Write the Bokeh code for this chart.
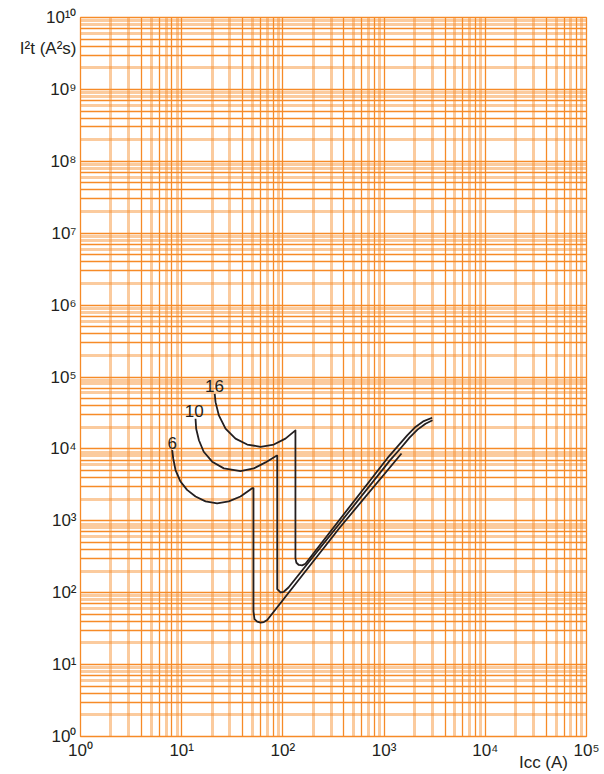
from bokeh.plotting import figure
from bokeh.models import FixedTicker, Grid, LogAxis, ColumnDataSource
from bokeh.core.properties import value
from bokeh.embed import file_html
from bokeh.resources import INLINE

# ---- data ----
x_ticks = [1, 10, 100, 1000, 10000, 100000]
x_tick_labels = ["10⁰", "10¹", "10²", "10³", "10⁴", "10⁵"]
y_ticks = [10 ** k for k in range(11)]
y_tick_labels = ["10⁰", "10¹", "10²", "10³", "10⁴", "10⁵", "10⁶", "10⁷", "10⁸", "10⁹", "10¹⁰"]

x_title = "Icc (A)"
x_title_pos = 10 ** 4.575
y_title = "I²t (A²s)"
y_title_pos = 10 ** 9.57

# grid mantissas (pale / solid minor lines)
x_minor_pale = [2, 3, 5, 7, 9]
x_minor_solid = [4, 6, 8]
y_minor_pale = [2, 6, 8, 9]
y_minor_solid = [3, 4, 5, 7]

curve6_x = [8.06, 8.24, 8.69, 9.73, 11.3, 13.7, 17.2, 22.4, 29.2, 38.1, 49.7, 51.2,
            51.2, 52.4, 55.7, 60.1, 64.8, 70, 362, 1486]
curve6_y = [9600, 7370, 5080, 3515, 2690, 2180, 1860, 1745, 1860, 2180, 2840, 2840,
            55, 43, 39.6, 38.4, 39.1, 41.7, 795, 8640]

curve10_x = [13.7, 13.9, 14.8, 16.5, 20.0, 26.1, 38.1, 51.6, 67.3, 86.5, 87.9,
             87.9, 94.7, 102, 113.6, 1143, 1436, 1783, 2138, 2565, 3010]
curve10_y = [26300, 19100, 13200, 9120, 6640, 5360, 4920, 5360, 6490, 8030, 8030,
             112, 100.7, 103, 118, 6920, 9970, 14360, 18540, 22420, 25070]

curve16_x = [21.2, 21.6, 23.3, 27.1, 34.0, 44.4, 60.1, 81.3, 106, 133,
             133, 136, 143.6, 155, 167, 1073, 1347, 1692, 2042, 2467, 2987]
curve16_y = [58200, 44700, 29200, 19100, 13900, 11500, 10700, 11500, 13900, 18100,
             300, 261, 243, 240, 253, 7370, 10690, 15450, 20200, 24400, 27150]

curve_label_x = [8.06, 13.3, 21.1]
curve_label_y = [12250, 33400, 74000]
curve_label_text = ["6", "10", "16"]

# ---- styles ----
ORANGE = "#F68B28"
INK = "#231F20"
FONT = "Liberation Sans"

p = figure(width=604, height=774, x_axis_type="log", y_axis_type="log",
           x_range=(1, 1e5), y_range=(1, 1e10),
           output_backend="svg", toolbar_location=None,
           min_border_left=80, min_border_right=18, min_border_top=17, min_border_bottom=34)
p.background_fill_color = "white"
p.border_fill_color = "white"
p.outline_line_color = ORANGE
p.outline_line_width = 1.3

p.xaxis.ticker = FixedTicker(ticks=x_ticks, minor_ticks=[])
p.yaxis.ticker = FixedTicker(ticks=y_ticks + [y_title_pos], minor_ticks=[])
p.xaxis.major_label_overrides = {t: s for t, s in zip(x_ticks, x_tick_labels)}
y_over = {t: s for t, s in zip(y_ticks, y_tick_labels)}
y_over[y_title_pos] = y_title
p.yaxis.major_label_overrides = y_over

x2 = LogAxis(ticker=FixedTicker(ticks=[x_title_pos], minor_ticks=[]),
             major_label_overrides={x_title_pos: x_title})
p.add_layout(x2, "below")

for ax in (p.xaxis + p.yaxis):
    ax.axis_line_color = None
    ax.major_tick_line_color = None
    ax.minor_tick_line_color = None
    ax.major_tick_in = 0
    ax.major_tick_out = 0
    ax.minor_tick_in = 0
    ax.minor_tick_out = 0
    ax.major_label_text_font = FONT
    ax.major_label_text_font_size = "17px"
    ax.major_label_text_color = INK
    ax.major_label_standoff = 4
x2.major_label_standoff = -10

p.xgrid.ticker = FixedTicker(ticks=x_ticks, minor_ticks=[])
p.ygrid.ticker = FixedTicker(ticks=y_ticks, minor_ticks=[])
p.xgrid.grid_line_color = ORANGE
p.xgrid.grid_line_width = 1.3
p.ygrid.grid_line_color = ORANGE
p.ygrid.grid_line_width = 1.3

decades_x = x_ticks[:-1]
decades_y = y_ticks[:-1]

def add_grid(dim, decades, mants, width, alpha):
    ticks = [d * m for d in decades for m in mants]
    g = Grid(dimension=dim, ticker=FixedTicker(ticks=ticks, minor_ticks=[]),
             grid_line_color=ORANGE, grid_line_width=width, grid_line_alpha=alpha)
    p.add_layout(g)

add_grid(0, decades_x, x_minor_pale, 3, 0.45)
add_grid(0, decades_x, x_minor_solid, 1.3, 1.0)
add_grid(1, decades_y, y_minor_pale, 3, 0.45)
add_grid(1, decades_y, y_minor_solid, 1.3, 1.0)

for cx, cy in ((curve6_x, curve6_y), (curve10_x, curve10_y), (curve16_x, curve16_y)):
    p.line(cx, cy, line_color=INK, line_width=1.8, line_join="round")

src = ColumnDataSource(dict(x=curve_label_x, y=curve_label_y, t=curve_label_text))
p.text(x="x", y="y", text="t", source=src, text_font=value(FONT), text_font_size="17px",
       text_color=INK, text_align="center", text_baseline="middle")

open("out.html", "w").write(file_html(p, INLINE))
